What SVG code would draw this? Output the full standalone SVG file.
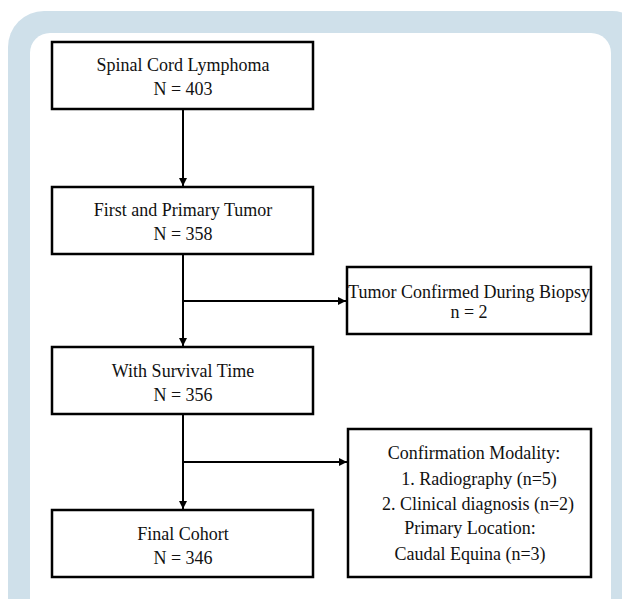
<svg xmlns="http://www.w3.org/2000/svg" width="622" height="599" viewBox="0 0 622 599">
<style>
.box{fill:#fff;stroke:#000;stroke-width:2.5}
.t{font-family:"Liberation Serif","Times New Roman",serif;font-size:18px;fill:#111;text-anchor:middle}
.c{fill:none;stroke:#000;stroke-width:2}
</style>
<defs>
<marker id="ah" viewBox="0 0 8 8" refX="8" refY="4" markerWidth="4" markerHeight="4" orient="auto" markerUnits="strokeWidth">
<path d="M0,0 L8,4 L0,8 z" fill="#000"/>
</marker>
</defs>
<rect x="8" y="11" width="640" height="650" rx="36" fill="#cfe0ea"/>
<rect x="30" y="33" width="581" height="620" rx="20" fill="#fff"/>
<g id="connectors">
<line class="c" x1="183" y1="109" x2="183" y2="186" marker-end="url(#ah)"/>
<line class="c" x1="183" y1="255" x2="183" y2="346" marker-end="url(#ah)"/>
<line class="c" x1="183" y1="301" x2="346" y2="301" marker-end="url(#ah)"/>
<line class="c" x1="183" y1="414" x2="183" y2="509" marker-end="url(#ah)"/>
<line class="c" x1="183" y1="462" x2="347" y2="462" marker-end="url(#ah)"/>
</g>
<g id="n1">
<rect class="box" x="52" y="42" width="261" height="67"/>
<text class="t" x="183" y="71">Spinal Cord Lymphoma</text>
<text class="t" x="183" y="95">N = 403</text>
</g>
<g id="n2">
<rect class="box" x="52" y="187" width="261" height="67"/>
<text class="t" x="183" y="216">First and Primary Tumor</text>
<text class="t" x="183" y="240">N = 358</text>
</g>
<g id="n3">
<rect class="box" x="52" y="347" width="261" height="67"/>
<text class="t" x="183" y="377">With Survival Time</text>
<text class="t" x="183" y="401">N = 356</text>
</g>
<g id="n4">
<rect class="box" x="52" y="510" width="261" height="67"/>
<text class="t" x="183" y="540">Final Cohort</text>
<text class="t" x="183" y="564">N = 346</text>
</g>
<g id="r1">
<rect class="box" x="347" y="267" width="244" height="67"/>
<text class="t" x="469" y="298">Tumor Confirmed During Biopsy</text>
<text class="t" x="469" y="318">n = 2</text>
</g>
<g id="r2">
<rect class="box" x="348" y="429" width="243" height="148"/>
<text class="t" x="474" y="459">Confirmation Modality:</text>
<text class="t" x="479" y="485">1. Radiography (n=5)</text>
<text class="t" x="478" y="510">2. Clinical diagnosis (n=2)</text>
<text class="t" x="470" y="534">Primary Location:</text>
<text class="t" x="470" y="560">Caudal Equina (n=3)</text>
</g>
</svg>
